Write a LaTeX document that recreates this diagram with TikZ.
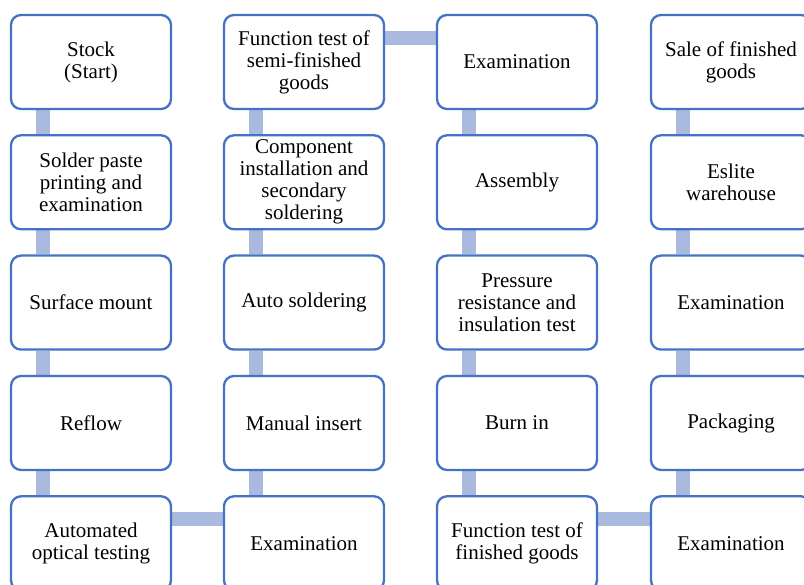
\documentclass[tikz,border=0pt]{standalone}
\usepackage{fontspec}
\setmainfont{Liberation Serif}
\usetikzlibrary{backgrounds}
\definecolor{boxblue}{RGB}{68,114,196}
\definecolor{connblue}{RGB}{170,185,222}
\tikzset{
  stepbox/.style={rectangle, rounded corners=10pt, draw=boxblue, line width=2.3pt,
    fill=white, minimum width=160pt, minimum height=94pt, inner sep=0pt,
    align=center, font=\fontsize{21}{22}\selectfont},
  conn/.style={draw=connblue, line width=14pt}
}
\begin{document}
\begin{tikzpicture}[x=1pt,y=-1pt]
\useasboundingbox (0,0) rectangle (804,585);
\clip (0,0) rectangle (804,585);
% column 1
\node[stepbox] (a1) at (91,62) {Stock\\(Start)};
\node[stepbox] (a2) at (91,182.3) {Solder paste\\printing and\\examination};
\node[stepbox] (a3) at (91,302.6) {Surface mount};
\node[stepbox] (a4) at (91,423) {Reflow};
\node[stepbox] (a5) at (91,543.3) {Automated\\optical testing};
% column 2
\node[stepbox] (b1) at (304,62) {Function test of\\semi-finished\\goods};
\node[stepbox] (b2) at (304,182.3) {Component\\installation and\\secondary\\soldering};
\node[stepbox] (b3) at (304,302.6) {Auto soldering};
\node[stepbox] (b4) at (304,423) {Manual insert};
\node[stepbox] (b5) at (304,543.3) {Examination};
% column 3
\node[stepbox] (c1) at (517,62) {Examination};
\node[stepbox] (c2) at (517,182.3) {Assembly};
\node[stepbox] (c3) at (517,302.6) {Pressure\\resistance and\\insulation test};
\node[stepbox] (c4) at (517,423) {Burn in};
\node[stepbox] (c5) at (517,543.3) {Function test of\\finished goods};
% column 4
\node[stepbox] (d1) at (731,62) {Sale of finished\\goods};
\node[stepbox] (d2) at (731,182.3) {Eslite\\warehouse};
\node[stepbox] (d3) at (731,302.6) {Examination};
\node[stepbox] (d4) at (731,423) {Packaging};
\node[stepbox] (d5) at (731,543.3) {Examination};
\begin{scope}[on background layer]
  \foreach \c in {a,b,c,d}{
    \foreach \i/\j in {1/2,2/3,3/4,4/5}{
      \draw[conn] ([xshift=-48pt]\c\i.south) -- ([xshift=-48pt]\c\j.north);
    }
  }
  \draw[conn] ([yshift=24.5pt]a5.east) -- ([yshift=24.5pt]b5.west);
  \draw[conn] ([yshift=24pt]b1.east) -- ([yshift=24pt]c1.west);
  \draw[conn] ([yshift=24.5pt]c5.east) -- ([yshift=24.5pt]d5.west);
\end{scope}
\end{tikzpicture}
\end{document}
